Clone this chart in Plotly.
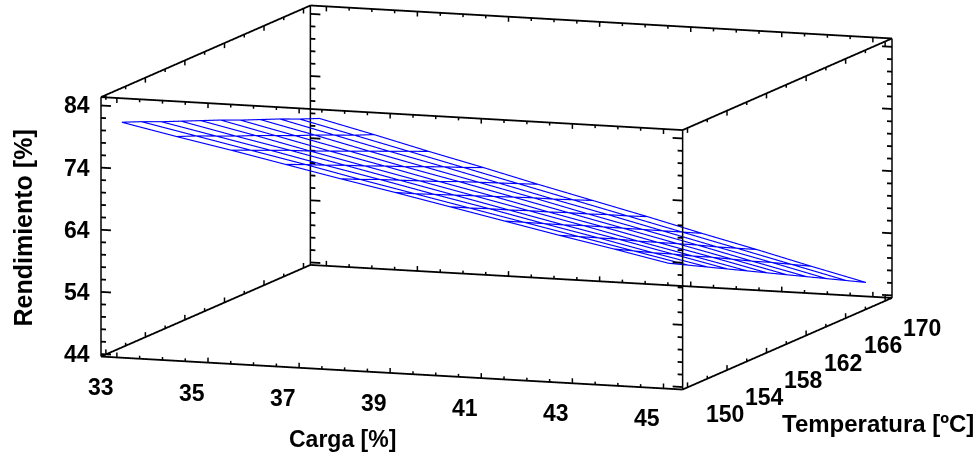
import plotly.graph_objects as go
import numpy as np

# ---------------- data ----------------
carga = [33.0, 34.2, 35.4, 36.6, 37.8, 39.0, 40.2, 41.4, 42.6, 43.8, 45.0]
temperatura = [150, 152, 154, 156, 158, 160, 162, 164, 166, 168, 170]
# rendimiento[i][j] : carga[i], temperatura[j]
rendimiento = [
    [81.1, 79.8, 78.4, 77.1, 75.8, 74.5, 73.1, 71.8, 70.5, 69.1, 67.8],
    [79.3, 78.0, 76.6, 75.2, 73.9, 72.5, 71.1, 69.8, 68.4, 67.0, 65.7],
    [77.6, 76.2, 74.8, 73.4, 71.9, 70.5, 69.1, 67.7, 66.3, 64.9, 63.5],
    [75.8, 74.4, 72.9, 71.5, 70.0, 68.6, 67.1, 65.7, 64.3, 62.8, 61.4],
    [74.0, 72.5, 71.1, 69.6, 68.1, 66.6, 65.2, 63.7, 62.2, 60.7, 59.2],
    [72.3, 70.7, 69.2, 67.7, 66.2, 64.7, 63.2, 61.7, 60.1, 58.6, 57.1],
    [70.5, 68.9, 67.4, 65.8, 64.3, 62.7, 61.2, 59.6, 58.1, 56.5, 55.0],
    [68.7, 67.1, 65.5, 63.9, 62.4, 60.8, 59.2, 57.6, 56.0, 54.4, 52.8],
    [66.9, 65.3, 63.7, 62.1, 60.4, 58.8, 57.2, 55.6, 53.9, 52.3, 50.7],
    [65.2, 63.5, 61.8, 60.2, 58.5, 56.9, 55.2, 53.5, 51.9, 50.2, 48.5],
    [63.4, 61.7, 60.0, 58.3, 56.6, 54.9, 53.2, 51.5, 49.8, 48.1, 46.4],
]

carga_ticks = [33, 35, 37, 39, 41, 43, 45]
temp_ticks = [150, 154, 158, 162, 166, 170]
rend_ticks = [44, 54, 64, 74, 84]

carga_range = [32.65, 45.42]
temp_range = [149.5, 170.7]
rend_range = [43.6, 85.35]

carga_minor = list(np.arange(33, 45.01, 0.5))
temp_minor = list(np.arange(150, 170.01, 2))
rend_minor = list(np.arange(44, 84.01, 2))

# ---------------- styling ----------------
FONT = "Liberation Sans, Arial, sans-serif"
TICK_SIZE = 23
W, H = 979, 461
PAD = 0.004                      # scene range slightly larger than the drawn box
ZOOM = 3.13 * (1 + 2 * PAD)


def padded(r):
    s = r[1] - r[0]
    return [r[0] - PAD * s, r[1] + PAD * s]


fig = go.Figure()

# wireframe of the surface
wx, wy, wz = [], [], []
for i, c in enumerate(carga):
    for j, t in enumerate(temperatura):
        wx.append(c); wy.append(t); wz.append(rendimiento[i][j])
    wx.append(None); wy.append(None); wz.append(None)
for j, t in enumerate(temperatura):
    for i, c in enumerate(carga):
        wx.append(c); wy.append(t); wz.append(rendimiento[i][j])
    wx.append(None); wy.append(None); wz.append(None)
fig.add_trace(go.Scatter3d(x=wx, y=wy, z=wz, mode="lines",
                           line=dict(color="rgb(0,0,255)", width=2.3),
                           hoverinfo="skip", showlegend=False))

c0, c1 = carga_range
t0, t1 = temp_range
z0, z1 = rend_range


class Segs:
    def __init__(self):
        self.x, self.y, self.z = [], [], []

    def add(self, a, b):
        self.x.extend([a[0], b[0], None])
        self.y.extend([a[1], b[1], None])
        self.z.extend([a[2], b[2], None])


flat = Segs()    # box edges along carga / temperatura + ticks on vertical edges
upright = Segs() # vertical box edges + ticks on horizontal edges

for t in (t0, t1):
    for z in (z0, z1):
        flat.add((c0, t, z), (c1, t, z))
for c in (c0, c1):
    for z in (z0, z1):
        flat.add((c, t0, z), (c, t1, z))
for c in (c0, c1):
    for t in (t0, t1):
        upright.add((c, t, z0), (c, t, z1))

CPX = (c1 - c0) / 583.0   # carga units per pixel
ZPX = (z1 - z0) / 260.0   # z units per pixel
for c in (c0, c1):
    s = 1 if c == c0 else -1
    for t in (t0, t1):
        for v in rend_minor:
            L = 10 if v in rend_ticks else 5
            flat.add((c, t, v), (c + s * L * CPX, t, v))
for t in (t0, t1):
    for z in (z0, z1):
        s = 1 if z == z0 else -1
        for v in carga_minor:
            L = 5 if v in carga_ticks else 3
            upright.add((v, t, z), (v, t, z + s * L * ZPX))
for c in (c0, c1):
    for z in (z0, z1):
        s = 1 if z == z0 else -1
        for v in temp_minor:
            L = 5 if v in temp_ticks else 3
            upright.add((c, v, z), (c, v, z + s * L * ZPX))

fig.add_trace(go.Scatter3d(x=flat.x, y=flat.y, z=flat.z, mode="lines",
                           line=dict(color="black", width=3.6),
                           hoverinfo="skip", showlegend=False))
fig.add_trace(go.Scatter3d(x=upright.x, y=upright.y, z=upright.z, mode="lines",
                           line=dict(color="black", width=3),
                           hoverinfo="skip", showlegend=False))

axis_common = dict(showgrid=False, zeroline=False, showbackground=False,
                   showspikes=False, showticklabels=False, ticks="",
                   showline=False, title=dict(text=""))

tick_font = dict(family=FONT, size=TICK_SIZE, color="black", weight="bold")
scene_ann = []
for v in carga_ticks:
    scene_ann.append(dict(x=v, y=t0, z=z0, text=str(v), showarrow=False,
                          xshift=-16, yshift=-30, font=tick_font))
for v in temp_ticks:
    scene_ann.append(dict(x=c1, y=v, z=z0, text=str(v), showarrow=False,
                          xshift=37, yshift=-27, font=tick_font))
for v in rend_ticks:
    scene_ann.append(dict(x=c0, y=t0, z=v, text=str(v), showarrow=False,
                          xanchor="right", xshift=-9, yshift=0, font=tick_font))

k = 12.0
eye = dict(x=0.3345 * k, y=-0.929 * k, z=0.1575 * k)


def title_font(size):
    return dict(family=FONT, size=size, color="black", weight="bold")


fig.update_layout(
    width=W, height=H,
    margin=dict(l=0, r=0, t=0, b=0),
    paper_bgcolor="white",
    scene=dict(
        domain=dict(x=[14 / W, 1], y=[(H - 395) / H, 1]),
        xaxis=dict(range=padded(carga_range), **axis_common),
        yaxis=dict(range=padded(temp_range), **axis_common),
        zaxis=dict(range=padded(rend_range), **axis_common),
        aspectmode="manual",
        aspectratio=dict(x=ZOOM, y=ZOOM, z=0.425 * ZOOM),
        camera=dict(eye=eye, up=dict(x=0, y=0, z=1), center=dict(x=0, y=0, z=0),
                    projection=dict(type="orthographic")),
        annotations=scene_ann,
        dragmode=False,
    ),
    annotations=[
        dict(x=342 / W, y=1 - 439 / H, xref="paper", yref="paper", text="Carga [%]",
             xanchor="center", yanchor="middle", showarrow=False, font=title_font(23)),
        dict(x=22.5 / W, y=1 - 228 / H, xref="paper", yref="paper", text="Rendimiento [%]",
             xanchor="center", yanchor="middle", textangle=-90, showarrow=False,
             font=title_font(25)),
        dict(x=878 / W, y=1 - 423 / H, xref="paper", yref="paper", text="Temperatura [ºC]",
             xanchor="center", yanchor="middle", showarrow=False, font=title_font(24)),
    ],
)

fig.write_html("out.html")
